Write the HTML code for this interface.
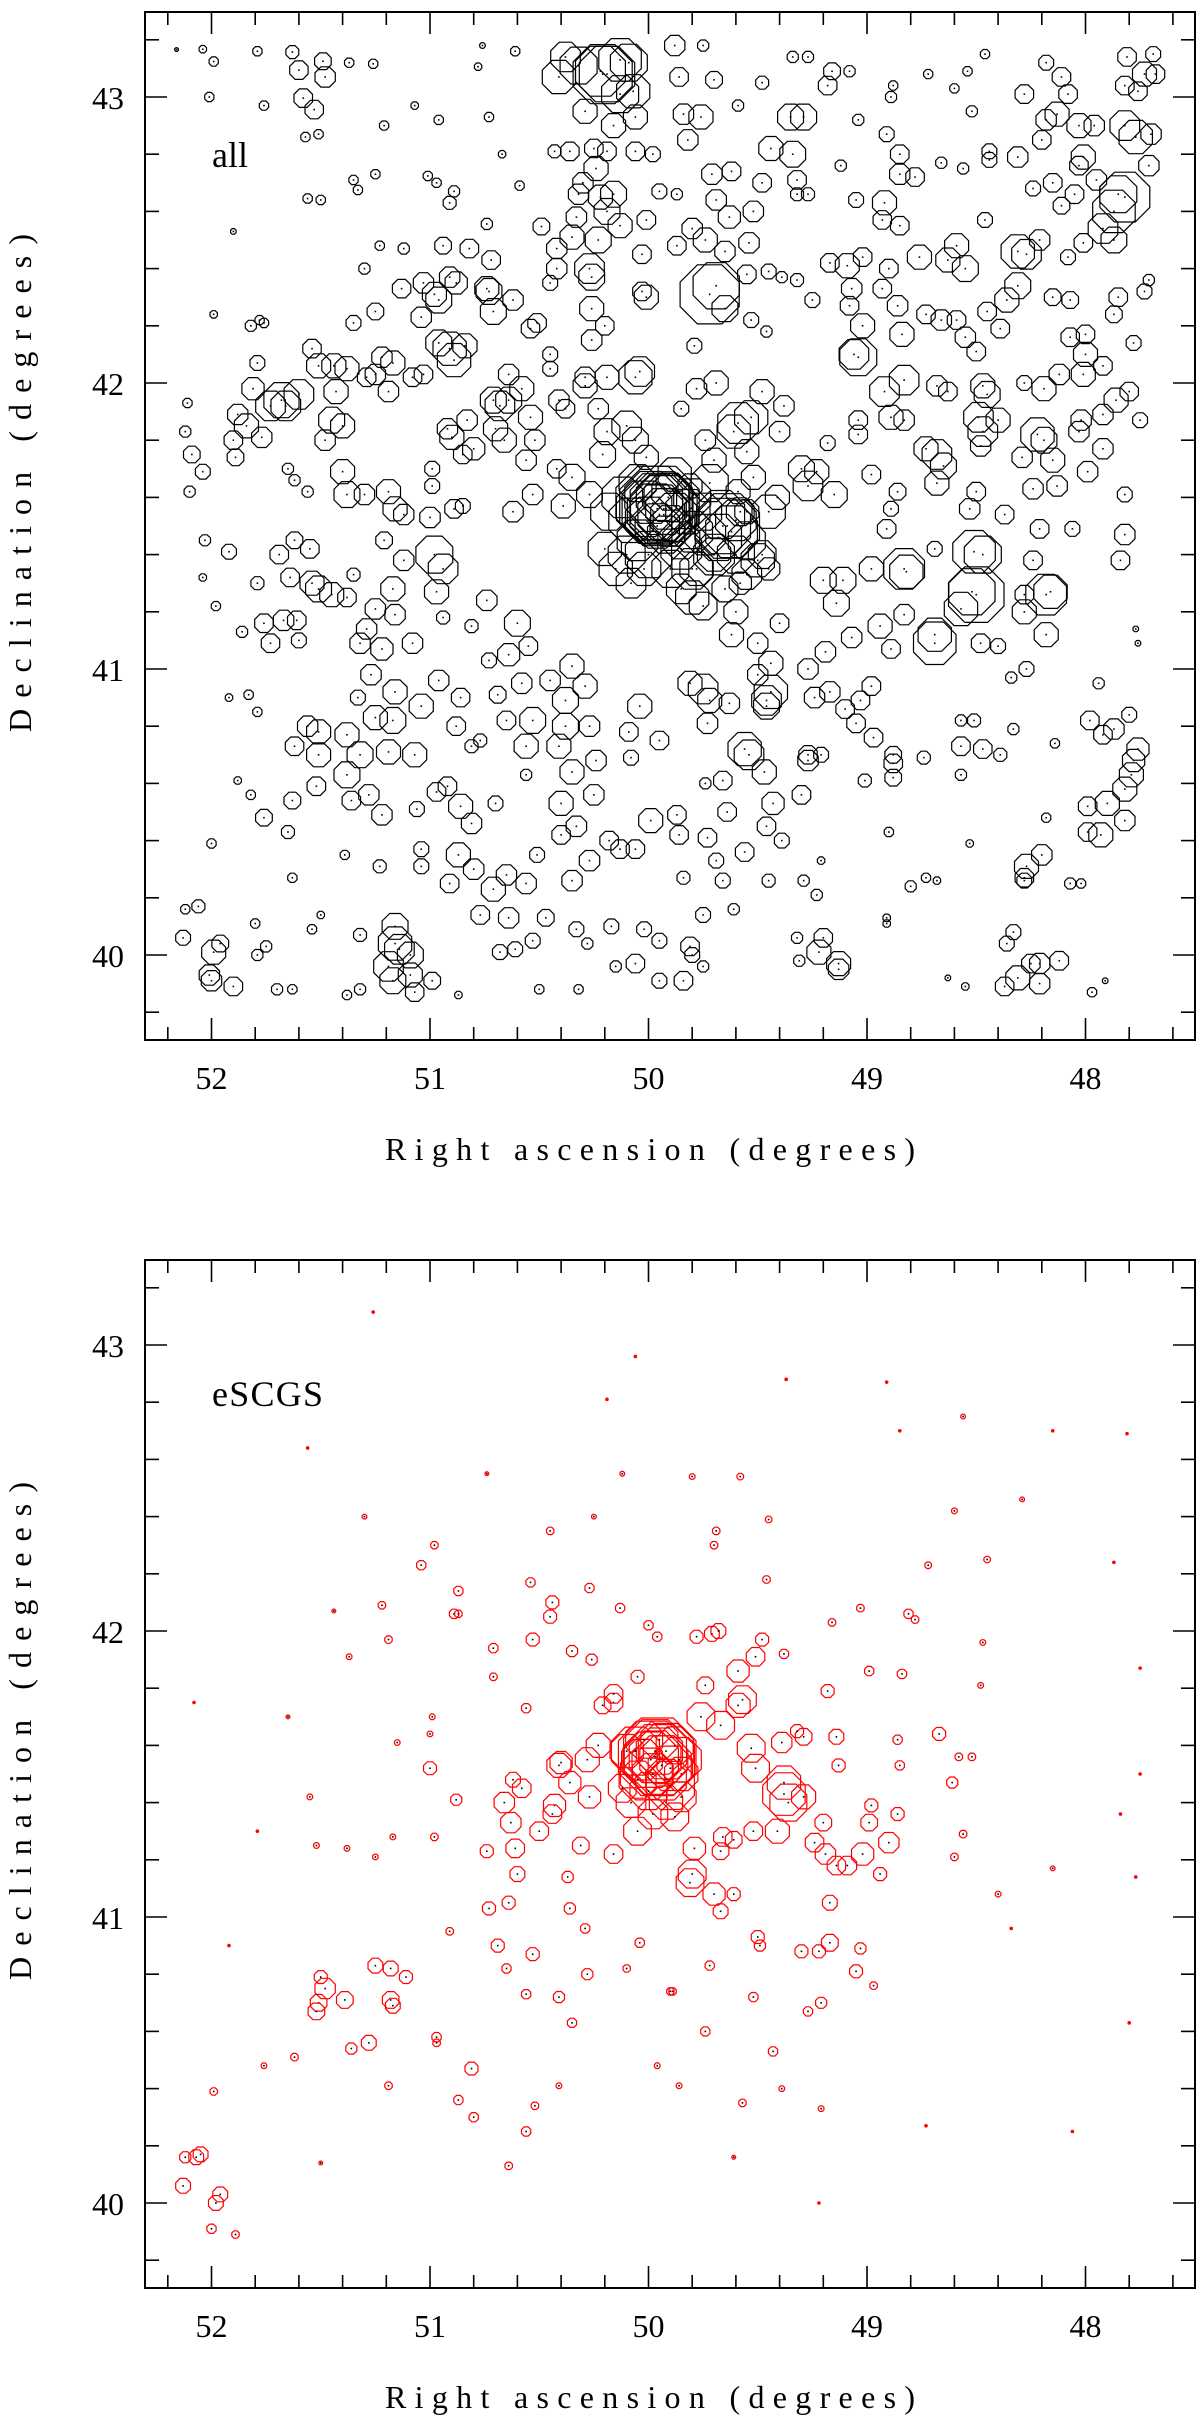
<!DOCTYPE html>
<html>
<head>
<meta charset="utf-8">
<style>
html,body{margin:0;padding:0;background:#fff;}
svg{display:block;}
text{font-family:"Liberation Serif",serif;fill:#000;}
</style>
</head>
<body>
<svg id="fig" width="1200" height="2426" viewBox="0 0 1200 2426" xmlns="http://www.w3.org/2000/svg">
<rect width="1200" height="2426" fill="#fff"/>
<g id="top-panel"></g>
<g id="bot-panel"></g>
</svg>
<script>
// ---------- data: [RA, Dec, marker radius] ----------
const allNW = [[52.16,43.166,2],[52.04,43.167,4],[51.99,43.124,5],[51.79,43.16,5],[51.63,43.157,7],[51.60,43.094,10],[51.49,43.125,9],[51.48,43.07,11],[51.37,43.12,5],[51.26,43.116,5],[50.76,43.18,3],[50.61,43.16,5],[50.78,43.106,4],[52.01,43.0,5],[51.76,42.97,5],[51.58,42.996,10],[51.53,42.956,10],[51.57,42.86,5],[51.51,42.87,5],[51.21,42.9,5],[51.07,42.97,4],[50.96,42.92,5],[50.73,42.93,5],[50.67,42.80,4],[51.35,42.71,5],[51.33,42.675,5],[51.25,42.73,5],[51.01,42.724,5],[50.97,42.70,5],[50.89,42.67,6],[50.91,42.63,7],[50.59,42.69,5],[51.56,42.645,5],[51.50,42.64,5],[51.90,42.53,3],[50.74,42.556,6],[50.49,42.547,9],[51.23,42.48,5],[51.12,42.47,6],[50.94,42.48,9],[50.82,42.47,10],[50.72,42.43,10],[51.30,42.40,6],[51.13,42.33,10],[51.03,42.35,11],[50.91,42.37,11],[50.88,42.35,12],[50.98,42.31,13],[50.96,42.29,14],[50.74,42.33,13],[50.73,42.32,14],[50.71,42.25,14],[50.62,42.29,11],[51.04,42.23,11],[51.25,42.25,9],[51.35,42.21,8],[51.99,42.24,4],[51.82,42.2,6],[51.78,42.22,5],[51.76,42.21,5],[50.54,42.19,10],[50.51,42.21,10],[50.96,42.14,14],[50.91,42.12,18],[50.89,42.08,18],[50.84,42.13,13],[51.54,42.12,10],[51.79,42.07,8],[51.81,41.98,12],[51.73,41.92,16],[51.68,41.94,19],[51.66,41.92,16],[51.60,41.96,16],[51.51,42.06,13],[51.44,42.06,13],[51.38,42.05,13],[51.43,41.97,13],[51.45,41.87,14],[51.40,41.85,13],[51.48,41.80,11],[51.22,42.09,11],[51.17,42.07,13],[51.19,41.97,11],[51.25,42.03,11],[51.29,42.02,10],[51.03,42.03,10],[51.08,42.02,10],[51.88,41.89,11],[51.84,41.85,13],[51.77,41.81,11],[51.90,41.80,10],[51.89,41.74,9],[52.11,41.93,5],[52.12,41.83,6],[52.09,41.75,9],[52.04,41.69,8],[52.10,41.62,6],[51.65,41.70,6],[51.62,41.66,6],[51.56,41.62,6],[51.40,41.69,13],[51.38,41.61,14],[51.30,41.61,11],[51.19,41.62,13],[51.16,41.56,13],[51.12,41.54,11],[50.99,41.70,8],[50.99,41.64,8],[50.89,41.56,10],[50.85,41.57,8],[51.00,41.53,11],[50.92,41.84,11],[50.90,41.81,13],[50.83,41.87,11],[50.80,41.77,12],[50.85,41.75,10],[50.71,41.94,14],[50.68,41.92,16],[50.64,41.94,14],[50.58,41.98,13],[50.70,41.84,13],[50.66,41.80,13],[50.54,41.88,13],[50.52,41.80,11],[50.56,41.73,11],[50.64,42.03,11],[50.45,42.10,8],[50.45,42.05,8],[50.41,41.94,11],[50.38,41.91,10],[50.29,42.02,11],[50.29,41.99,13],[50.23,41.91,11],[50.19,42.02,13],[50.06,42.02,18],[50.04,42.04,16],[50.21,41.75,14],[50.19,41.83,14],[50.10,41.85,16],[50.06,41.80,14],[50.01,41.74,13],[50.42,41.70,10],[50.35,41.67,14],[50.27,41.61,14],[50.39,41.57,13],[50.53,41.61,11],[50.62,41.55,11],[50.32,43.11,20],[50.22,43.09,27],[50.19,43.08,30],[50.21,43.08,32],[50.13,43.13,23],[50.09,43.12,20],[50.41,43.07,18],[50.38,43.14,16],[50.13,43.01,20],[50.07,43.02,18],[50.29,42.95,13],[50.06,42.93,13],[50.16,42.90,13],[50.43,42.81,7],[50.36,42.81,10],[50.25,42.82,10],[50.19,42.81,10],[50.06,42.81,10],[49.98,42.80,8],[50.24,42.75,13],[50.30,42.70,11],[50.32,42.66,11],[50.22,42.65,13],[50.16,42.66,14],[50.19,42.60,14],[50.33,42.58,11],[50.13,42.55,13],[50.01,42.57,10],[50.35,42.51,13],[50.23,42.50,14],[50.42,42.47,11],[50.42,42.40,11],[50.45,42.35,8],[50.27,42.40,16],[50.26,42.37,14],[50.26,42.26,13],[50.20,42.20,10],[50.26,42.15,11],[50.03,42.45,10],[49.95,42.67,8],[50.01,42.30,13],[50.03,42.32,10]];

const allNE = [[49.88,43.18,11],[49.75,43.18,6],[49.86,43.07,10],[49.70,43.06,9],[49.48,43.05,7],[49.34,43.14,6],[49.27,43.14,6],[49.16,43.09,9],[49.08,43.09,6],[49.18,43.04,10],[48.88,43.04,5],[48.89,43.0,6],[48.72,43.08,5],[48.60,43.03,5],[48.54,43.09,5],[48.46,43.15,5],[48.52,42.95,6],[48.28,43.01,10],[48.18,43.12,8],[48.11,43.07,10],[48.08,43.01,10],[47.81,43.14,10],[47.69,43.15,8],[47.68,43.08,10],[47.73,43.08,13],[47.82,43.04,10],[47.76,43.02,10],[49.84,42.94,11],[49.76,42.93,13],[49.82,42.85,11],[49.35,42.93,14],[49.29,42.93,14],[49.44,42.82,13],[49.34,42.80,14],[49.59,42.97,6],[49.04,42.92,6],[48.91,42.87,8],[48.85,42.80,10],[48.85,42.73,11],[48.78,42.72,10],[48.92,42.63,13],[48.93,42.57,10],[48.85,42.55,10],[49.05,42.64,8],[49.12,42.76,6],[49.32,42.71,10],[49.32,42.66,7],[49.27,42.66,7],[49.62,42.74,10],[49.71,42.73,11],[49.48,42.70,10],[49.87,42.66,6],[49.69,42.64,11],[49.63,42.58,12],[49.52,42.60,11],[49.80,42.54,11],[49.74,42.50,13],[49.65,42.46,11],[49.54,42.49,11],[49.87,42.48,10],[49.72,42.31,32],[49.69,42.34,25],[49.65,42.26,14],[49.55,42.38,10],[49.53,42.22,8],[49.46,42.18,6],[49.45,42.39,8],[49.39,42.37,6],[49.32,42.36,7],[49.25,42.29,8],[49.79,42.13,8],[49.17,42.42,10],[49.09,42.41,13],[49.02,42.44,10],[49.07,42.33,11],[49.08,42.27,10],[49.02,42.20,13],[49.04,42.09,20],[49.06,42.10,16],[48.93,42.33,10],[48.90,42.40,10],[48.86,42.27,11],[48.84,42.17,13],[48.73,42.24,10],[48.66,42.22,11],[48.59,42.22,10],[48.55,42.16,11],[48.50,42.11,10],[48.46,42.57,8],[48.76,42.44,13],[48.63,42.43,13],[48.55,42.40,14],[48.59,42.48,13],[48.31,42.46,18],[48.27,42.45,16],[48.21,42.50,11],[48.31,42.34,14],[48.36,42.29,13],[48.45,42.25,10],[48.39,42.19,10],[48.44,42.81,8],[48.44,42.78,8],[48.31,42.79,11],[48.66,42.77,6],[48.56,42.75,6],[48.24,42.68,8],[48.15,42.70,10],[48.05,42.66,10],[48.11,42.62,9],[48.18,42.92,11],[48.20,42.85,10],[48.13,42.94,13],[48.03,42.90,13],[47.96,42.90,11],[48.01,42.79,13],[48.03,42.76,10],[47.82,42.90,16],[47.77,42.86,18],[47.70,42.87,11],[47.71,42.76,11],[47.95,42.71,11],[47.85,42.66,20],[47.82,42.65,27],[47.87,42.60,23],[47.92,42.54,16],[47.87,42.50,14],[48.01,42.49,10],[48.08,42.44,8],[47.71,42.36,6],[47.73,42.32,8],[47.85,42.30,10],[47.87,42.24,9],[48.15,42.30,9],[48.07,42.29,9],[48.07,42.16,10],[48.00,42.17,10],[48.00,42.10,13],[47.78,42.14,8],[47.92,42.06,10],[48.01,42.03,13],[48.12,42.03,11],[48.19,41.98,13],[48.28,42.00,8],[47.80,41.97,10],[47.86,41.94,13],[47.92,41.89,11],[47.75,41.87,8],[48.02,41.87,11],[48.03,41.83,11],[47.92,41.77,11],[47.99,41.69,11],[47.82,41.61,8],[48.22,41.82,18],[48.19,41.80,14],[48.29,41.74,11],[48.15,41.73,13],[48.24,41.63,11],[48.13,41.64,11],[48.47,41.99,13],[48.45,41.96,14],[48.49,41.88,16],[48.47,41.83,16],[48.40,41.87,13],[48.48,41.78,11],[48.68,41.75,16],[48.65,41.71,14],[48.68,41.65,13],[48.73,41.77,13],[48.50,41.62,10],[48.53,41.56,11],[48.37,41.54,10],[48.98,41.68,10],[49.04,41.87,10],[49.04,41.82,10],[49.18,41.79,8],[48.86,41.62,9],[48.89,41.56,8],[48.92,41.97,16],[48.83,42.01,16],[48.89,41.88,13],[48.83,41.87,11],[48.68,41.99,11],[48.63,41.97,10],[49.15,41.61,14],[49.27,41.64,16],[49.30,41.70,14],[49.23,41.69,13],[49.78,41.98,11],[49.69,42.00,13],[49.48,41.97,13],[49.38,41.92,11],[49.85,41.91,8],[49.59,41.86,22],[49.61,41.83,18],[49.53,41.88,18],[49.40,41.83,11],[49.74,41.80,11],[49.55,41.76,13],[49.70,41.73,13],[49.52,41.67,13],[49.59,41.62,13],[49.41,41.60,13],[49.55,41.55,13],[49.81,41.64,13]];

const allSW = [[52.03,41.45,6],[51.92,41.41,8],[52.04,41.32,4],[51.98,41.22,5],[51.86,41.13,6],[51.79,41.30,7],[51.76,41.16,10],[51.73,41.09,10],[51.67,41.17,11],[51.61,41.17,10],[51.60,41.10,8],[51.69,41.40,10],[51.64,41.32,10],[51.62,41.45,9],[51.55,41.42,10],[51.54,41.30,13],[51.51,41.28,14],[51.45,41.26,13],[51.38,41.25,10],[51.35,41.33,7],[51.21,41.45,9],[51.17,41.28,13],[51.16,41.19,11],[51.25,41.21,11],[51.29,41.14,11],[51.32,41.09,11],[51.22,41.07,12],[51.27,40.98,11],[51.08,41.09,11],[50.98,41.40,20],[50.94,41.35,16],[50.97,41.27,13],[51.12,41.38,11],[50.94,41.18,7],[50.81,41.15,7],[51.33,40.90,8],[51.16,40.92,13],[51.04,40.87,13],[51.17,40.82,14],[51.25,40.83,13],[51.19,40.71,13],[51.32,40.70,14],[51.38,40.77,13],[51.51,40.78,13],[51.56,40.80,11],[51.62,40.73,10],[51.51,40.70,13],[51.52,40.59,10],[51.38,40.63,14],[51.36,40.54,10],[51.28,40.56,11],[51.22,40.49,11],[51.07,40.70,13],[51.06,40.51,8],[50.96,40.96,11],[50.86,40.90,10],[50.88,40.80,10],[50.97,40.57,10],[50.92,40.59,10],[50.86,40.52,13],[50.81,40.46,11],[50.81,40.73,7],[50.77,40.75,7],[50.70,40.53,8],[50.74,41.24,11],[50.73,41.03,8],[50.64,41.05,12],[50.55,41.08,10],[50.60,41.16,14],[50.69,40.91,9],[50.58,40.95,11],[50.53,40.82,14],[50.65,40.82,10],[50.56,40.73,13],[50.45,40.96,11],[50.35,41.01,13],[50.29,40.94,13],[50.38,40.89,14],[50.38,40.80,14],[50.27,40.80,11],[50.41,40.73,13],[50.24,40.68,11],[50.35,40.64,13],[50.40,40.53,13],[50.25,40.56,11],[50.33,40.45,11],[50.40,40.42,10],[50.08,40.69,8],[50.56,40.63,6],[50.04,40.87,13],[50.09,40.78,10],[49.99,40.47,13],[49.95,40.75,10],[50.18,40.40,10],[50.13,40.37,10],[50.06,40.37,10],[50.71,40.23,13],[50.65,40.28,11],[50.56,40.25,11],[50.77,40.14,10],[50.64,40.13,11],[50.47,40.13,9],[50.35,40.26,11],[50.27,40.33,11],[50.51,40.35,8],[50.91,40.25,10],[50.87,40.35,13],[50.80,40.30,11],[51.04,40.37,8],[51.04,40.31,8],[51.23,40.31,7],[51.39,40.35,5],[51.63,40.27,5],[52.00,40.39,5],[51.88,40.61,4],[51.82,40.56,5],[51.92,40.90,4],[51.83,40.91,5],[51.79,40.85,5],[51.76,40.48,9],[51.63,40.54,9],[51.65,40.43,7],[52.12,40.16,5],[52.06,40.17,7],[52.13,40.06,8],[51.96,40.04,9],[51.99,40.01,13],[52.01,39.93,11],[52.00,39.91,11],[51.90,39.89,10],[51.80,40.11,5],[51.79,40.00,6],[51.75,40.03,6],[51.70,39.88,6],[51.63,39.88,5],[51.54,40.09,5],[51.50,40.14,4],[51.38,39.86,5],[51.32,39.88,6],[51.32,40.07,7],[51.16,40.10,14],[51.16,40.04,18],[51.14,40.02,16],[51.19,39.96,16],[51.17,39.91,14],[51.09,40.00,14],[51.09,39.93,13],[51.07,39.87,10],[50.99,39.91,9],[50.87,39.86,4],[50.50,39.88,5],[50.32,39.88,5],[50.68,40.01,8],[50.61,40.02,8],[50.53,40.05,8],[50.33,40.09,8],[50.28,40.04,6],[50.17,40.10,8],[50.15,39.96,6],[50.06,39.97,10],[50.02,40.09,8],[49.95,40.05,8],[49.95,39.91,8]];

const allSE = [[48.91,41.49,10],[48.21,41.49,10],[48.06,41.49,8],[47.82,41.47,11],[47.84,41.38,10],[48.24,41.38,10],[48.51,41.41,23],[48.47,41.40,20],[48.50,41.26,30],[48.52,41.27,25],[48.57,41.21,18],[48.16,41.27,18],[48.18,41.26,22],[48.28,41.20,13],[48.18,41.12,13],[48.28,41.26,10],[48.48,41.09,10],[48.40,41.08,8],[48.69,41.09,23],[48.69,41.12,18],[48.83,41.35,22],[48.82,41.34,18],[48.69,41.42,8],[48.83,41.19,11],[48.94,41.15,13],[48.89,41.07,10],[49.07,41.11,11],[48.98,41.35,13],[49.11,41.31,14],[49.20,41.31,14],[49.14,41.23,14],[49.40,41.16,10],[49.27,41.00,11],[49.19,41.06,11],[49.24,40.90,11],[49.17,40.92,11],[49.10,40.86,10],[49.05,40.81,10],[49.03,40.89,10],[48.98,40.94,10],[48.97,40.76,10],[48.88,40.70,9],[48.88,40.67,10],[48.88,40.62,9],[48.74,40.69,7],[49.01,40.61,7],[49.50,41.09,11],[49.44,41.02,13],[49.44,40.92,18],[49.46,40.89,16],[49.46,40.87,14],[49.63,40.88,11],[49.73,40.81,11],[49.75,40.93,16],[49.72,40.89,13],[49.81,40.95,13],[49.62,41.12,13],[49.50,40.98,11],[49.56,40.72,18],[49.54,40.70,16],[49.47,40.64,13],[49.43,40.53,12],[49.30,40.56,10],[49.27,40.70,10],[49.27,40.68,11],[49.21,40.70,8],[49.66,40.61,10],[49.74,40.60,6],[49.64,40.50,10],[49.46,40.45,10],[49.39,40.40,8],[49.87,40.49,10],[49.86,40.42,10],[49.73,40.41,10],[49.56,40.36,10],[49.69,40.33,8],[49.84,40.27,7],[49.66,40.26,8],[49.45,40.26,7],[49.29,40.26,6],[49.23,40.21,6],[49.21,40.33,4],[49.75,40.14,8],[49.61,40.16,6],[49.81,40.03,10],[49.80,40.00,8],[49.75,39.96,6],[49.84,39.91,10],[48.90,40.43,5],[48.53,40.39,4],[48.80,40.24,6],[48.73,40.27,5],[48.68,40.26,4],[48.91,40.13,4],[48.91,40.11,4],[49.32,40.06,6],[49.20,40.06,10],[49.22,40.01,13],[49.13,39.95,11],[49.13,39.97,13],[49.31,39.98,6],[48.63,39.92,3],[48.55,39.89,4],[48.57,40.82,6],[48.51,40.82,7],[48.57,40.73,10],[48.47,40.72,10],[48.39,40.70,7],[48.57,40.63,6],[48.33,40.79,6],[48.34,40.97,6],[48.27,41.00,8],[48.14,40.74,5],[47.94,40.95,6],[47.77,41.14,3],[47.76,41.09,3],[48.18,40.48,5],[47.98,40.82,10],[47.87,40.79,11],[47.92,40.77,10],[47.80,40.84,8],[47.76,40.72,12],[47.78,40.68,12],[47.79,40.63,13],[47.82,40.58,13],[47.90,40.53,13],[47.99,40.52,10],[47.82,40.47,11],[47.99,40.43,10],[47.93,40.42,13],[48.20,40.35,11],[48.27,40.31,13],[48.28,40.27,10],[48.28,40.26,8],[48.07,40.25,6],[48.02,40.25,5],[48.33,40.08,8],[48.36,40.04,8],[48.31,39.92,13],[48.37,39.89,10],[48.25,39.97,10],[48.21,39.97,11],[48.21,39.90,11],[48.12,39.98,10],[47.97,39.87,5],[47.91,39.91,3],[49.85,41.45,20],[49.80,41.35,22],[49.70,41.40,18],[49.60,41.40,20],[49.55,41.33,16],[49.48,41.40,15],[49.80,41.25,18],[49.75,41.22,15],[49.65,41.28,14],[49.58,41.30,12],[49.45,41.35,12],[49.60,41.20,13]];

const allCore = [[49.95,41.57,43],[49.96,41.56,38],[49.94,41.58,34],[49.97,41.55,30],[49.93,41.54,28],[49.95,41.60,25],[49.92,41.56,22],[50.00,41.52,25],[49.90,41.50,22],[49.64,41.50,35],[49.66,41.50,30],[49.62,41.48,28],[49.68,41.46,25],[50.05,41.45,22],[50.10,41.40,20],[50.00,41.40,25],[49.85,41.42,22],[49.80,41.48,22],[49.75,41.55,20],[49.80,41.60,20],[50.12,41.60,22],[50.18,41.55,20],[50.05,41.65,20],[49.88,41.68,18],[49.72,41.65,20],[49.55,41.45,20],[49.50,41.38,18],[49.70,41.40,22],[49.58,41.55,15],[50.15,41.35,18],[49.90,41.35,20],[49.78,41.35,18],[50.20,41.42,18],[49.45,41.55,18],[49.98,41.58,40],[49.93,41.56,36],[49.95,41.54,32],[49.99,41.60,28],[49.91,41.60,26],[50.02,41.56,30],[49.88,41.53,26],[49.96,41.50,24],[49.92,41.47,20],[49.82,41.55,24],[50.08,41.52,24],[49.74,41.47,22],[49.60,41.52,22],[49.67,41.54,26],[50.02,41.35,18],[49.90,41.62,20],[50.08,41.30,16],[49.85,41.28,16]];

const escgsWest = [[51.26,43.115,1],[51.56,42.64,1],[52.08,41.75,1],[50.06,42.96,1],[50.19,42.81,1.5],[50.74,42.55,2],[50.12,42.55,2.5],[51.30,42.40,2.5],[50.25,42.40,2.5],[50.98,42.30,4],[51.04,42.23,5],[50.87,42.14,5],[50.45,42.35,4],[50.54,42.17,5],[50.44,42.10,7],[50.45,42.05,7],[50.27,42.15,5],[50.13,42.08,5],[50.00,42.02,5],[49.96,41.98,5],[51.44,42.07,2],[51.22,42.09,4],[51.19,41.97,4],[51.37,41.91,3],[50.89,42.06,5],[50.87,42.06,4],[50.71,41.94,5],[50.71,41.84,4],[50.53,41.97,7],[50.35,41.93,6],[50.26,41.90,6],[50.05,41.84,7],[51.65,41.70,2],[50.99,41.70,3],[51.00,41.64,3],[51.15,41.61,3],[51.00,41.52,7],[50.88,41.41,6],[50.56,41.73,5],[50.21,41.74,9],[50.16,41.75,10],[50.16,41.78,10],[51.55,41.42,3],[51.79,41.30,1.5],[51.52,41.25,3],[51.38,41.24,3],[51.25,41.21,3],[51.17,41.28,3],[50.98,41.28,4],[50.62,41.48,8],[50.58,41.45,10],[50.66,41.40,11],[50.63,41.33,11],[50.50,41.30,10],[50.74,41.23,7],[50.61,41.24,10],[50.60,41.15,8],[50.41,41.53,13],[50.40,41.54,12],[50.43,41.39,12],[50.44,41.36,10],[50.36,41.47,12],[50.28,41.55,13],[50.23,41.60,13],[50.27,41.42,12],[50.31,41.25,9],[50.16,41.22,10],[50.37,41.14,6],[50.36,41.03,6],[50.29,40.96,5],[50.04,40.91,5],[50.10,40.82,4],[50.28,40.80,6],[50.41,40.72,6],[50.56,40.73,5],[50.53,40.87,7],[50.65,40.82,5],[50.69,40.90,7],[50.73,41.03,7],[50.64,41.05,7],[50.91,40.95,4],[50.35,40.63,5],[49.90,40.74,4],[49.96,40.48,3],[50.52,40.34,4],[50.41,40.41,3],[50.56,40.25,5],[50.64,40.13,4],[50.81,40.47,7],[50.87,40.36,5],[50.80,40.30,5],[50.97,40.58,5],[50.97,40.56,4],[51.19,40.41,4],[51.36,40.54,6],[51.28,40.56,8],[51.25,40.83,8],[51.18,40.82,8],[51.11,40.79,7],[51.18,40.71,9],[51.17,40.69,8],[51.50,40.79,7],[51.48,40.75,11],[51.51,40.70,9],[51.52,40.67,9],[51.39,40.71,9],[51.62,40.51,4],[51.76,40.48,3],[51.99,40.39,4],[51.92,40.90,1.5],[51.50,40.14,2],[52.12,40.16,6],[52.07,40.16,8],[52.05,40.17,8],[52.13,40.06,8],[51.96,40.03,8],[51.98,40.00,8],[52.00,39.91,5],[51.89,39.89,4]];

const escgsEast = [[49.37,42.88,1],[48.91,42.87,1],[48.85,42.70,1],[48.56,42.75,2.5],[48.15,42.70,1],[47.81,42.69,1],[48.29,42.46,2.5],[48.60,42.42,3],[49.80,42.54,3],[49.58,42.54,3.5],[49.45,42.39,3.5],[49.69,42.35,4],[49.70,42.30,4],[49.46,42.18,4],[48.72,42.23,3.5],[48.45,42.25,3.5],[47.87,42.24,1],[49.03,42.08,4],[49.16,42.03,4],[48.81,42.06,5],[48.78,42.04,4],[48.47,41.96,3],[48.48,41.81,3],[47.75,41.87,1],[49.78,41.98,7],[49.71,41.99,8],[49.68,42.00,8],[49.48,41.97,7],[49.51,41.91,10],[49.38,41.92,5],[49.59,41.86,12],[49.74,41.81,9],[48.99,41.86,5],[48.84,41.85,5],[49.18,41.79,7],[49.57,41.76,15],[49.59,41.74,13],[49.76,41.70,15],[49.67,41.67,15],[49.53,41.59,15],[49.51,41.52,15],[49.39,41.61,11],[49.29,41.63,9],[49.32,41.65,7],[49.14,41.63,8],[49.13,41.53,7],[48.86,41.62,5],[48.85,41.53,5],[48.67,41.64,7],[48.58,41.56,4],[48.52,41.56,4],[48.61,41.47,6],[47.75,41.50,1],[49.38,41.47,18],[49.36,41.40,20],[49.38,41.43,23],[49.29,41.42,13],[49.41,41.30,13],[49.20,41.33,9],[48.98,41.39,7],[48.99,41.33,9],[48.86,41.36,7],[48.90,41.26,11],[49.24,41.26,10],[49.19,41.22,11],[49.14,41.18,10],[49.09,41.18,10],[49.02,41.22,12],[48.94,41.15,7],[48.56,41.29,4],[48.60,41.21,4],[47.84,41.36,1],[48.15,41.17,2.5],[47.77,41.14,1],[48.40,41.08,3],[48.34,40.96,1.5],[49.52,41.30,10],[49.66,41.28,10],[49.61,41.27,9],[49.67,41.23,9],[49.79,41.24,12],[49.80,41.15,15],[49.81,41.12,15],[49.70,41.08,12],[49.61,41.08,7],[49.67,41.02,8],[49.17,41.05,8],[49.50,40.93,7],[49.49,40.90,6],[49.72,40.83,5],[49.30,40.88,7],[49.22,40.88,7],[49.17,40.91,9],[49.03,40.89,6],[49.05,40.81,7],[48.97,40.76,4],[49.89,40.74,4],[49.52,40.72,5],[49.21,40.70,6],[49.27,40.67,5],[49.74,40.60,5],[49.43,40.53,5],[49.86,40.41,3],[49.39,40.40,3],[49.57,40.35,4],[49.21,40.33,3],[49.61,40.16,2],[49.22,40.00,1],[48.73,40.27,1],[48.06,40.25,1],[47.80,40.63,1]];

const escgsCore = [[49.95,41.58,25],[49.97,41.56,28],[49.93,41.55,26],[49.98,41.50,22],[49.92,41.48,22],[49.90,41.52,24],[50.03,41.55,22],[50.05,41.48,20],[49.88,41.60,20],[49.85,41.50,18],[50.00,41.44,20],[50.08,41.40,16],[49.98,41.36,16],[49.92,41.40,18],[49.85,41.42,16],[50.10,41.58,18],[49.95,41.62,20],[50.02,41.62,20],[49.88,41.35,15],[50.05,41.30,15],[50.12,41.45,15],[49.96,41.56,42],[49.95,41.55,38],[49.97,41.58,34],[49.94,41.53,32],[49.99,41.55,30],[49.92,41.58,30],[50.01,41.50,28],[49.90,41.46,26],[50.06,41.58,26],[49.86,41.55,24]];

const raTicks = [52, 51, 50, 49, 48];
const decTicks = [40, 41, 42, 43];
const panelLabels = ["all", "eSCGS"];

// ---------- axes ----------
const NS = "http://www.w3.org/2000/svg";
const X0 = 145, X1 = 1195;
const panels = [{top: 12, bottom: 1040, off: 0, g: document.getElementById('top-panel'), color: '#000', sets: [allNW, allNE, allSW, allSE, allCore]},
                {top: 1260, bottom: 2288, off: 1248, g: document.getElementById('bot-panel'), color: '#ff0000', sets: [escgsWest, escgsEast, escgsCore]}];
function xs(ra) { return 211.5 + (52 - ra) * 218.5; }
function ys(dec, off) { return 97 + off + (43 - dec) * 286; }
function mk(tag, attrs, parent) {
  const e = document.createElementNS(NS, tag);
  for (const k in attrs) e.setAttribute(k, attrs[k]);
  parent.appendChild(e);
  return e;
}

panels.forEach((p, pi) => {
  const g = p.g;
  const mg = mk('g', {}, g);
  
  
  p.sets.forEach(set => {
    set.forEach(d => {
      const cx = xs(d[0]), cy = ys(d[1], p.off), r = d[2];
      let el;
      if (r <= 1.5) {
        el = mk('circle', {cx: cx, cy: cy, r: 1.8, fill: p.color}, mg);
      } else {
        const pts = [];
        for (let k = 0; k < 8; k++) {
          const a = (22.5 + 45 * k) * Math.PI / 180;
          pts.push((cx + r * Math.cos(a)).toFixed(1) + ',' + (cy + r * Math.sin(a)).toFixed(1));
        }
        el = mk('polygon', {points: pts.join(' '), fill: 'none', stroke: p.color, 'stroke-width': 1.2}, mg);
        const dot = mk('rect', {x: cx - 0.8, y: cy - 0.8, width: 1.6, height: 1.6, fill: '#000'}, mg);
        
        
      }
      
      
    });
  });
  const fr = mk('rect', {x: X0, y: p.top, width: X1 - X0, height: p.bottom - p.top, fill: 'none', stroke: '#000', 'stroke-width': 2}, g);
  
  
  const tg = mk('g', {stroke: '#000', 'stroke-width': 1.6}, g);
  
  
  for (let i = 0; i <= 23; i++) {
    const ra = 47.6 + i * 0.2;
    const x = xs(ra);
    const major = Math.abs(ra - Math.round(ra)) < 0.01;
    const L = major ? 22 : 13;
    mk('line', {x1: x, y1: p.bottom, x2: x, y2: p.bottom - L}, tg);
    mk('line', {x1: x, y1: p.top, x2: x, y2: p.top + L}, tg);
  }
  for (let i = 0; i <= 17; i++) {
    const dec = 39.8 + i * 0.2;
    const y = ys(dec, p.off);
    if (y < p.top || y > p.bottom) continue;
    const major = Math.abs(dec - Math.round(dec)) < 0.01;
    const L = major ? 22 : 14;
    mk('line', {x1: X0, y1: y, x2: X0 + L, y2: y}, tg);
    mk('line', {x1: X1, y1: y, x2: X1 - L, y2: y}, tg);
  }
  raTicks.forEach(v => {
    const t = mk('text', {x: xs(v), y: p.off + 1089, 'font-size': 32, 'text-anchor': 'middle'}, g);
    t.textContent = String(v);
    
    
  });
  decTicks.forEach(v => {
    const t = mk('text', {x: 124, y: ys(v, p.off) + 12, 'font-size': 32, 'text-anchor': 'end'}, g);
    t.textContent = String(v);
    
    
  });
  const xt = mk('text', {x: 385, y: p.off + 1160, 'font-size': 32, textLength: 530, lengthAdjust: 'spacing'}, g);
  xt.textContent = 'Right ascension (degrees)';
  
  
  const yc = p.off + 483;
  const yt = mk('text', {x: 0, y: 0, 'font-size': 32, 'text-anchor': 'middle', textLength: 498, lengthAdjust: 'spacing', transform: 'translate(31,' + yc + ') rotate(-90)'}, g);
  yt.textContent = 'Declination (degrees)';
  
  
  const pl = mk('text', {x: 212, y: p.off + (pi === 0 ? 167 : 158), 'font-size': 36}, g);
  pl.textContent = panelLabels[pi];
  if (pi === 1) { pl.setAttribute('textLength', 111); pl.setAttribute('lengthAdjust', 'spacing'); }
  
  
});
</script>
</body>
</html>
